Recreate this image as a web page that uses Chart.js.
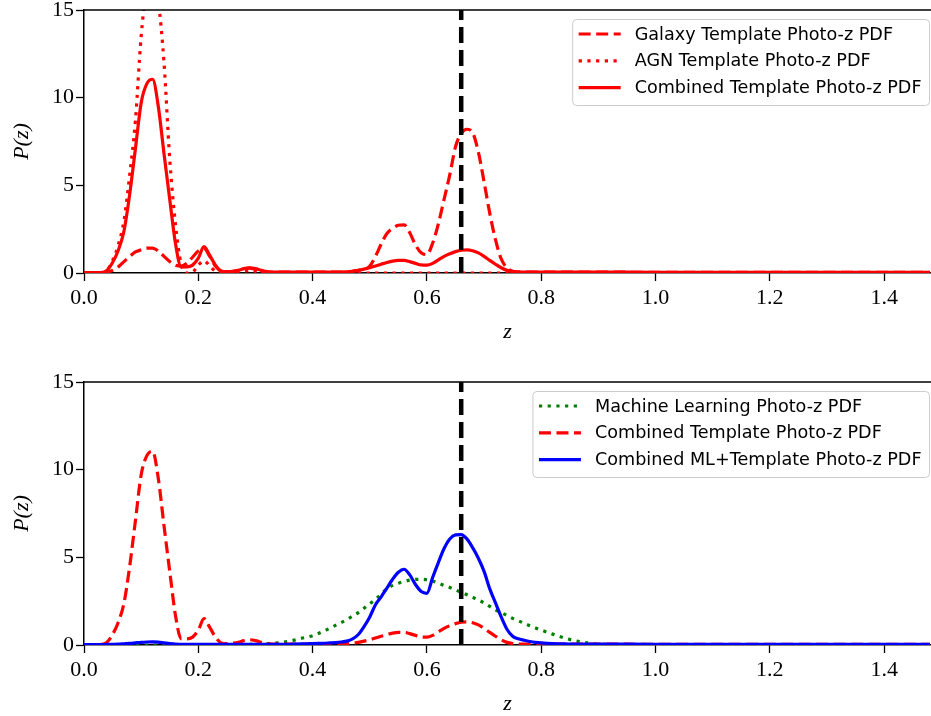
<!DOCTYPE html>
<html>
<head>
<meta charset="utf-8">
<script src="https://cdn.jsdelivr.net/npm/chart.js@4.4.1/dist/chart.umd.min.js"></script>
<style>
  html, body { margin: 0; padding: 0; background: #fff; overflow: hidden; }
  canvas { position: absolute; left: 0; }
  #c1 { top: 0; }
  #c2 { top: 372px; }
</style>
</head>
<body>
<canvas id="c1" width="931" height="344"></canvas>
<canvas id="c2" width="931" height="344"></canvas>
<script>
// redshift grid
const zGrid = [
  0.00, 0.01, 0.02, 0.03, 0.04, 0.05, 0.06, 0.07, 0.08, 0.09,
  0.10, 0.11, 0.12, 0.13, 0.14, 0.15, 0.16, 0.17, 0.18, 0.19,
  0.20, 0.21, 0.22, 0.23, 0.24, 0.25, 0.26, 0.27, 0.28, 0.29,
  0.30, 0.31, 0.32, 0.33, 0.34, 0.35, 0.36, 0.37, 0.38, 0.39,
  0.40, 0.41, 0.42, 0.43, 0.44, 0.45, 0.46, 0.47, 0.48, 0.49,
  0.50, 0.51, 0.52, 0.53, 0.54, 0.55, 0.56, 0.57, 0.58, 0.59,
  0.60, 0.61, 0.62, 0.63, 0.64, 0.65, 0.66, 0.67, 0.68, 0.69,
  0.70, 0.71, 0.72, 0.73, 0.74, 0.75, 0.76, 0.77, 0.78, 0.79,
  0.80, 0.82, 0.84, 0.86, 0.88, 0.90, 1.0, 1.1, 1.2, 1.3, 1.4, 1.48
];

// galaxy template photo-z pdf
const galaxyPdf = [
  0, 0, 0, 0, 0.05, 0.15, 0.35, 0.65, 0.95, 1.2,
  1.32, 1.42, 1.42, 1.25, 0.95, 0.65, 0.45, 0.4, 0.55, 0.9,
  1.25, 1.4, 0.95, 0.4, 0.1, 0.05, 0.08, 0.15, 0.25, 0.28,
  0.2, 0.1, 0.05, 0.05, 0.05, 0.05, 0.05, 0.05, 0.05, 0.05,
  0.05, 0.05, 0.05, 0.05, 0.05, 0.05, 0.07, 0.1, 0.15, 0.2,
  0.4, 0.95, 1.65, 2.25, 2.55, 2.72, 2.75, 2.3, 1.6, 1.15,
  1.05, 1.7, 2.8, 4.2, 5.6, 7.2, 7.95, 8.2, 8.0, 6.9,
  5.2, 3.4, 1.9, 0.8, 0.3, 0.1, 0.06, 0.05, 0.05, 0.05,
  0.05, 0.05, 0.05, 0.05, 0.05, 0.05, 0.04, 0.04, 0.04, 0.04, 0.04, 0.04
];

// AGN template photo-z pdf (peak goes past the top of the axis)
const agnPdf = [
  0, 0, 0, 0, 0.15, 0.7, 1.6, 3.0, 5.6, 8.7,
  13.5, 16.3, 17.0, 15.5, 12.0, 6.5, 2.8, 0.5, 0, 0.05,
  0.45, 0.7, 0.4, 0.1, 0, 0, 0, 0.05, 0.1, 0.15,
  0.1, 0, 0, 0, 0, 0, 0, 0, 0, 0,
  0, 0, 0, 0, 0, 0, 0, 0, 0, 0,
  0, 0, 0, 0, 0, 0, 0, 0, 0, 0,
  0, 0, 0, 0, 0, 0, 0, 0, 0, 0,
  0, 0, 0, 0, 0, 0, 0, 0, 0, 0,
  0, 0, 0, 0, 0, 0, 0, 0, 0, 0, 0, 0
];

// combined template photo-z pdf (solid in top panel, dashed in bottom one)
const combTemplatePdf = [
  0.02, 0.02, 0.02, 0.03, 0.15, 0.6, 1.3, 2.4, 4.5, 7.1,
  9.7, 10.8, 11.05, 9.5, 6.8, 4.2, 1.7, 0.35, 0.35, 0.45,
  0.85, 1.5, 1.0, 0.45, 0.12, 0.08, 0.1, 0.15, 0.25, 0.3,
  0.25, 0.15, 0.08, 0.05, 0.05, 0.05, 0.05, 0.05, 0.05, 0.05,
  0.05, 0.05, 0.05, 0.05, 0.05, 0.05, 0.07, 0.1, 0.15, 0.22,
  0.3, 0.4, 0.5, 0.6, 0.68, 0.72, 0.72, 0.65, 0.55, 0.46,
  0.45, 0.55, 0.75, 0.95, 1.1, 1.22, 1.3, 1.32, 1.27, 1.15,
  0.95, 0.72, 0.5, 0.3, 0.15, 0.08, 0.05, 0.05, 0.05, 0.05,
  0.05, 0.05, 0.05, 0.05, 0.05, 0.05, 0.04, 0.04, 0.04, 0.04, 0.04, 0.04
];

// machine learning photo-z pdf
const mlPdf = [
  0, 0, 0, 0, 0, 0, 0, 0, 0, 0,
  0, 0, 0, 0, 0, 0, 0, 0, 0, 0,
  0, 0, 0, 0, 0, 0, 0.01, 0.01, 0.02, 0.03,
  0.04, 0.06, 0.08, 0.1, 0.13, 0.17, 0.22, 0.29, 0.38, 0.45,
  0.53, 0.65, 0.8, 0.95, 1.12, 1.28, 1.45, 1.65, 1.85, 2.1,
  2.35, 2.6, 2.9, 3.2, 3.4, 3.52, 3.62, 3.7, 3.74, 3.75,
  3.72, 3.65, 3.52, 3.4, 3.28, 3.15, 3.0, 2.87, 2.72, 2.57,
  2.4, 2.2, 2.0, 1.85, 1.68, 1.52, 1.38, 1.24, 1.1, 0.97,
  0.85, 0.62, 0.4, 0.24, 0.12, 0.05, 0.01, 0, 0, 0, 0, 0
];

// combined ML + template photo-z pdf
const combMlPdf = [
  0.02, 0.02, 0.02, 0.02, 0.03, 0.04, 0.05, 0.07, 0.09, 0.12,
  0.15, 0.17, 0.18, 0.16, 0.12, 0.08, 0.05, 0.04, 0.03, 0.03,
  0.03, 0.03, 0.03, 0.03, 0.03, 0.03, 0.03, 0.03, 0.03, 0.03,
  0.03, 0.03, 0.03, 0.03, 0.03, 0.03, 0.04, 0.05, 0.06, 0.07,
  0.08, 0.09, 0.1, 0.12, 0.14, 0.17, 0.22, 0.35, 0.6, 1.05,
  1.6, 2.3, 2.75, 3.25, 3.75, 4.15, 4.32, 4.0, 3.45, 3.05,
  2.95, 3.85, 4.7, 5.5, 6.05, 6.28, 6.3, 6.05, 5.55, 4.95,
  4.2, 3.2, 2.4, 1.6, 0.9, 0.5, 0.35, 0.27, 0.2, 0.15,
  0.12, 0.08, 0.06, 0.05, 0.05, 0.05, 0.04, 0.04, 0.04, 0.04, 0.04, 0.04
];

const zTrue = 0.66;   // spectroscopic redshift (black dashed line)
const zMax = 1.482;
const pMax = 15;
const yTicks = [0, 5, 10, 15];

const serif = 'Liberation Serif';

function toPoints(vals) {
  return zGrid.map((z, i) => ({ x: z, y: vals[i] }));
}

function curve(label, vals, color, dash, order) {
  return {
    label,
    data: toPoints(vals),
    borderColor: color,
    borderWidth: 3.2,
    borderDash: dash,
    borderCapStyle: 'butt',
    pointRadius: 0,
    fill: false,
    cubicInterpolationMode: 'monotone',
    order
  };
}

function trueLine() {
  return {
    data: [{ x: zTrue, y: 0 }, { x: zTrue, y: pMax }],
    borderColor: '#000',
    borderWidth: 4.5,
    borderDash: [16, 7],
    borderCapStyle: 'butt',
    pointRadius: 0,
    order: 0
  };
}

// legend box in the upper right, drawn like matplotlib's
const legendBox = {
  id: 'legendBox',
  afterDatasetsDraw(chart) {
    const { ctx, chartArea } = chart;
    const items = chart.data.datasets.filter((d) => d.label);
    ctx.save();
    ctx.font = '17.6px "DejaVu Sans"';
    const textW = Math.max(...items.map((d) => ctx.measureText(d.label).width));
    const right = chartArea.right - 1.5;
    const left = right - 8 - textW - 14 - 42 - 6;
    const top = chartArea.top + 9.5;
    const bottom = top + 86;
    ctx.beginPath();
    ctx.roundRect(left, top, right - left, bottom - top, 4);
    ctx.fillStyle = 'rgba(255,255,255,0.8)';
    ctx.fill();
    ctx.strokeStyle = '#cccccc';
    ctx.lineWidth = 1;
    ctx.stroke();
    items.forEach((d, i) => {
      const y = top + 14.5 + i * 26.8;
      ctx.beginPath();
      ctx.setLineDash(d.borderDash || []);
      ctx.strokeStyle = d.borderColor;
      ctx.lineWidth = d.borderWidth;
      ctx.moveTo(left + 6, y);
      ctx.lineTo(left + 48, y);
      ctx.stroke();
      ctx.setLineDash([]);
      ctx.fillStyle = '#000';
      ctx.textBaseline = 'middle';
      ctx.fillText(d.label, left + 62, y + 1);
    });
    ctx.restore();
  }
};

// top spine of the axes box
const topSpine = {
  id: 'topSpine',
  afterDraw(chart) {
    const { ctx, chartArea } = chart;
    ctx.save();
    ctx.strokeStyle = '#000';
    ctx.lineWidth = 1.5;
    ctx.beginPath();
    ctx.moveTo(chartArea.left, chartArea.top);
    ctx.lineTo(chartArea.right, chartArea.top);
    ctx.stroke();
    ctx.restore();
  }
};

function makePanel(id, datasets) {
  new Chart(document.getElementById(id), {
    type: 'line',
    data: { datasets },
    options: {
      responsive: false,
      animation: false,
      devicePixelRatio: 1,
      layout: { padding: { top: 10, left: 0, right: 0, bottom: 0 } },
      plugins: { legend: { display: false }, tooltip: { enabled: false } },
      scales: {
        x: {
          type: 'linear',
          min: 0,
          max: zMax,
          ticks: {
            stepSize: 0.2,
            includeBounds: false,
            autoSkip: false,
            maxRotation: 0,
            padding: 4,
            color: '#000',
            font: { family: serif, size: 22 },
            callback: (v) => v.toFixed(1)
          },
          grid: { drawOnChartArea: false, drawTicks: true, tickLength: 8, color: '#000', tickWidth: 1.3 },
          border: { display: true, color: '#000', width: 1.5 },
          title: {
            display: true,
            text: 'z',
            color: '#000',
            font: { family: serif, size: 22, style: 'italic', lineHeight: 1 },
            padding: { top: 0, bottom: 1 }
          },
          afterFit(s) {
            s.height = 71;
            s.paddingLeft = 0;
            s.paddingRight = 0;
          }
        },
        y: {
          min: 0,
          max: pMax,
          afterBuildTicks(s) {
            s.ticks = yTicks.map((v) => ({ value: v }));
          },
          ticks: {
            padding: 2,
            color: '#000',
            font: { family: serif, size: 22 },
            callback: (v) => String(v)
          },
          grid: { drawOnChartArea: false, drawTicks: true, tickLength: 8, color: '#000', tickWidth: 1.3 },
          border: { display: true, color: '#000', width: 1.5 },
          title: {
            display: true,
            text: 'P(z)',
            color: '#000',
            font: { family: serif, size: 22, style: 'italic', lineHeight: 1 },
            padding: { top: 11, bottom: 0 }
          },
          afterFit(s) {
            s.width = 84;
            s.paddingTop = 0;
            s.paddingBottom = 0;
          }
        }
      }
    },
    plugins: [legendBox, topSpine]
  });
}

makePanel('c1', [
  curve('Galaxy Template Photo-z PDF', galaxyPdf, '#ff0000', [12, 5.5], 3),
  curve('AGN Template Photo-z PDF', agnPdf, '#ff0000', [3.2, 5.5], 2),
  curve('Combined Template Photo-z PDF', combTemplatePdf, '#ff0000', [], 1),
  trueLine()
]);

makePanel('c2', [
  curve('Machine Learning Photo-z PDF', mlPdf, '#008000', [3.2, 5.5], 3),
  curve('Combined Template Photo-z PDF', combTemplatePdf, '#ff0000', [12, 5.5], 2),
  curve('Combined ML+Template Photo-z PDF', combMlPdf, '#0000ff', [], 1),
  trueLine()
]);
</script>
</body>
</html>
